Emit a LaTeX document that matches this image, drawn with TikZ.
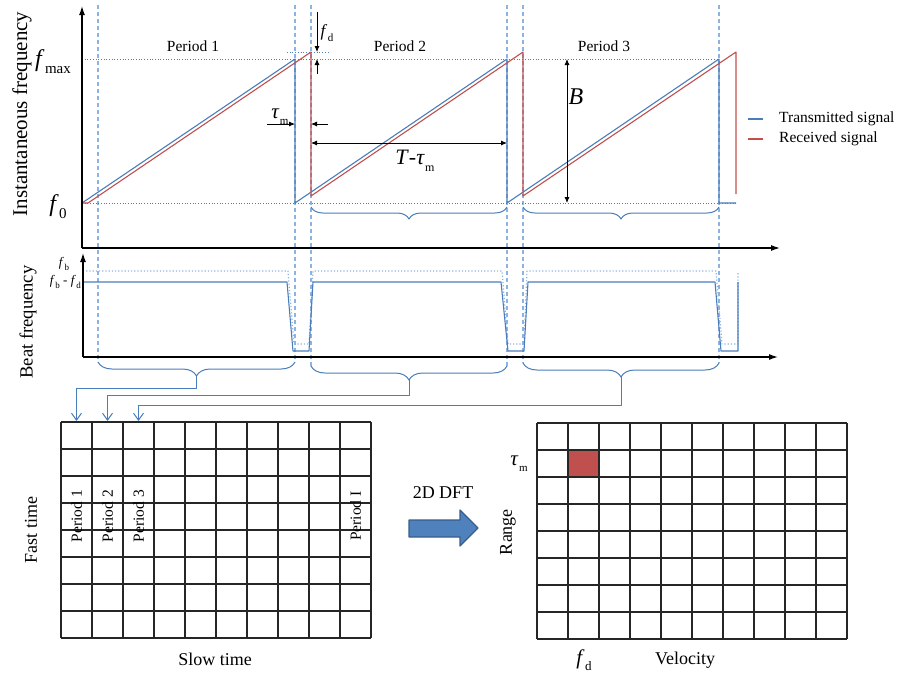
\documentclass[tikz,border=0pt]{standalone}
\usepackage{fontspec}
\setmainfont{Liberation Serif}
\usetikzlibrary{arrows.meta,decorations.pathreplacing}
\definecolor{txblue}{HTML}{4A7EBB}
\definecolor{rxred}{HTML}{C0504D}
\definecolor{guide}{HTML}{8DB3E2}
\definecolor{dftblue}{HTML}{4F81BD}
\definecolor{dftedge}{HTML}{385D8A}
\newcommand{\fsub}[3]{\textit{#1}\kern.4pt\raisebox{-.3em}{\fontsize{#3}{#3}\selectfont #2}}

\begin{document}
\begin{tikzpicture}[x=1pt,y=-1pt,line join=round,
  axis/.style={black,line width=1.3pt,-{Latex[length=9pt,width=6pt]}},
  tx/.style={txblue,line width=1.1pt},
  rx/.style={rxred,line width=1.1pt},
  guideln/.style={guide,line width=1.3pt,dash pattern=on 4pt off 3pt},
  level/.style={txblue,line width=.7pt,dotted},
  beatdot/.style={guide,line width=1.2pt,dotted},
  dim/.style={black,line width=.8pt,-{Latex[length=6pt,width=5pt]}},
  dimboth/.style={black,line width=.8pt,{Latex[length=6pt,width=5pt]}-{Latex[length=6pt,width=5pt]}},
  brc/.style={txblue,line width=1pt,decorate,decoration={brace,mirror,amplitude=#1}},
  feed/.style={txblue,line width=1pt,-{Straight Barb[length=7pt,width=10pt]}},
  gridln/.style={black!85,line width=1.2pt},
  lbl/.style={font=\fontsize{15.5}{18}\selectfont,inner sep=1pt},
  big/.style={font=\fontsize{18}{20}\selectfont,inner sep=1pt}]
\useasboundingbox (0,0) rectangle (903,673);

% instantaneous frequency
\foreach \gx/\gy in {98/362,295/362,311/366,507/366,523/363,719/363}
  \draw[guideln] (\gx,5) -- (\gx,\gy);
\draw[level] (82,59) -- (719,59);
\draw[level] (82,203) -- (736,203);
\draw[level] (287,52) -- (328,52);
\draw[tx] (82,203) -- (295,59) -- (295,203) -- (507,59) -- (507,203) -- (719,59) -- (719,203) -- (736,203);
\draw[rx] (82,203) -- (88,203) -- (311,52) -- (311,196) -- (523,52) -- (523,196) -- (736,52) -- (736,194);
\draw[axis] (82,248) -- (82,6);
\draw[axis] (82,248) -- (780,248);

\node[font=\fontsize{21}{24}\selectfont,rotate=90] (ylabA) at (22,114) {Instantaneous frequency};
\node[font=\fontsize{24}{26}\selectfont,inner sep=0pt] (fmax) at (53,62) {\fsub{f}{max}{15}};
\node[font=\fontsize{24}{26}\selectfont,inner sep=0pt] (fzero) at (58,207) {\fsub{f}{0}{15}};
\node[lbl] (per1) at (193,46) {Period 1};
\node[lbl] (per2) at (400,46) {Period 2};
\node[lbl] (per3) at (604,46) {Period 3};

% doppler shift
\coordinate (fdtop) at (317,12);
\coordinate (fdrx) at (317,52);
\coordinate (fdbot) at (317,74);
\coordinate (fdtx) at (317,59);
\draw[dim] (fdtop) -- (fdrx);
\draw[dim] (fdbot) -- (fdtx);
\node[font=\fontsize{17}{19}\selectfont,inner sep=0pt] (fdlbl) at (327,33) {\fsub{f}{d}{11}};

% delay
\coordinate (tauL) at (267,124);
\coordinate (tauTx) at (295,124);
\coordinate (tauR) at (328,124);
\coordinate (tauRx) at (311,124);
\draw[dim] (tauL) -- (tauTx);
\draw[dim] (tauR) -- (tauRx);
\node[font=\fontsize{21}{23}\selectfont,inner sep=0pt] (taulbl) at (280,117) {\fsub{τ}{m}{11}};

\coordinate (sweepL) at (311,143);
\coordinate (sweepR) at (507,143);
\draw[dimboth] (sweepL) -- (sweepR);
\node[font=\fontsize{22}{24}\selectfont,inner sep=0pt] (sweeplbl) at (415,161) {\textit{T}-\fsub{τ}{m}{12}};

\coordinate (bwTop) at (567,59);
\coordinate (bwBot) at (567,203);
\draw[dimboth] (bwTop) -- (bwBot);
\node[font=\fontsize{24}{26}\selectfont,inner sep=0pt] (bwlbl) at (576,97) {\textit{B}};

% legend
\draw[tx] (748,119) -- (763,119);
\draw[rx] (748,139) -- (763,139);
\node[lbl,anchor=west] (legtx) at (778,119) {Transmitted signal};
\node[lbl,anchor=west] (legrx) at (778,139) {Received signal};

\draw[brc=12pt] (311,207) -- (507,207);
\draw[brc=12pt] (523,207) -- (719,207);

% beat frequency
\draw[beatdot] (83,271) -- (288,271) -- (294,344) -- (309,344) -- (313,271) -- (502,271) -- (508,344) -- (524,344) -- (527,271) -- (716,271) -- (722,344) -- (738,344) -- (738,272);
\draw[tx] (83,282) -- (287,282) -- (293,351) -- (309,351) -- (313,282) -- (501,282) -- (508,351) -- (524,351) -- (528,282) -- (715,282) -- (721,351) -- (738,351) -- (738,282);
\draw[axis] (83,357) -- (83,253);
\draw[axis] (83,357) -- (778,357);

\node[font=\fontsize{18.6}{21}\selectfont,rotate=90] (ylabB) at (28,322) {Beat frequency};
\node[font=\fontsize{13}{14}\selectfont,inner sep=0pt] (fblbl) at (64,264) {\fsub{f}{b}{9}};
\node[font=\fontsize{13}{14}\selectfont,inner sep=0pt,anchor=east] (fbdlbl) at (81,282) {\fsub{f}{b}{9} - \fsub{f}{d}{9}};

\draw[brc=14pt] (98,362) -- (295,362);
\draw[brc=14pt] (311,366) -- (507,366);
\draw[brc=14pt] (523,363) -- (719,363);
\coordinate (tip1) at (196.5,376);
\coordinate (tip2) at (409,380);
\coordinate (tip3) at (621,377);

% slow time / fast time matrix
\coordinate (col1) at (76.5,421);
\coordinate (col2) at (107.5,421);
\coordinate (col3) at (138.5,421);
\draw[feed] (tip1) -- ++(0,12) -| (col1);
\draw[feed] (tip2) -- ++(0,15) -| (col2);
\draw[feed] (tip3) -- ++(0,28) -| (col3);

\foreach \i in {0,...,10}
  \draw[gridln] ({61+31*\i},422) -- ({61+31*\i},638);
\foreach \j in {0,...,8}
  \draw[gridln] (61,{422+27*\j}) -- (371,{422+27*\j});
\node[lbl,rotate=90] (gp1) at (76.5,516) {Period 1};
\node[lbl,rotate=90] (gp2) at (107.5,516) {Period 2};
\node[lbl,rotate=90] (gp3) at (138.5,516) {Period 3};
\node[lbl,rotate=90] (gpI) at (355.5,516) {Period I};
\node[big,rotate=90] (fast) at (31,530) {Fast time};
\node[big] (slow) at (215,659) {Slow time};

% 2D DFT
\filldraw[fill=dftblue,draw=dftedge,line width=1.2pt] (409,520) -- (460,520) -- (460,510) -- (478,528) -- (460,546) -- (460,537) -- (409,537) -- cycle;
\node[big] (dft) at (443,493) {2D DFT};

% range / velocity map
\fill[rxred] (568,450) rectangle (599,477);
\foreach \i in {0,...,10}
  \draw[gridln] ({537+31*\i},423) -- ({537+31*\i},639);
\foreach \j in {0,...,8}
  \draw[gridln] (537,{423+27*\j}) -- (847,{423+27*\j});
\node[font=\fontsize{21}{23}\selectfont,inner sep=0pt] (taumap) at (519,464) {\fsub{τ}{m}{11}};
\node[big,rotate=90] (range) at (508,532) {Range};
\node[font=\fontsize{21}{23}\selectfont,inner sep=0pt] (fdmap) at (584,660) {\fsub{f}{d}{13}};
\node[big] (vel) at (685,660) {Velocity};
\end{tikzpicture}
\end{document}
